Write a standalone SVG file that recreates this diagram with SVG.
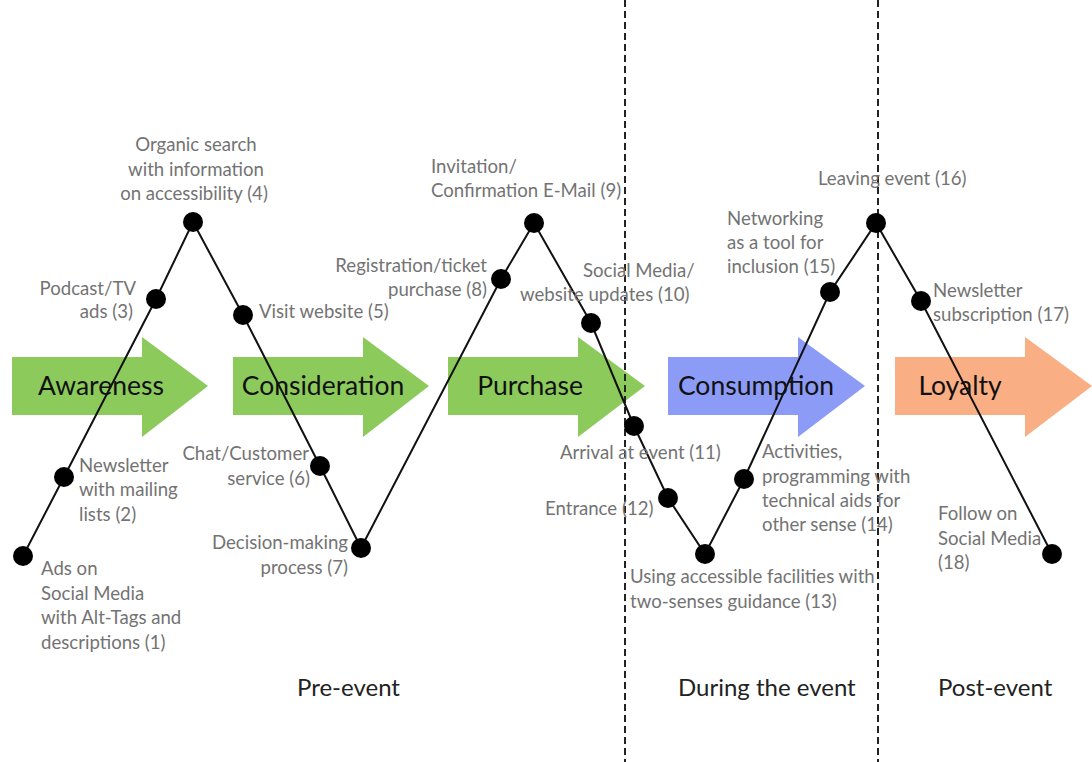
<svg xmlns="http://www.w3.org/2000/svg" width="1092" height="762" viewBox="0 0 1092 762">
<style>
.lbl{font-family:Lato,"Open Sans","Liberation Sans",sans-serif;font-size:18.6px;fill:#737373}
.stage{font-family:Lato,"Open Sans","Liberation Sans",sans-serif;font-size:26.5px;fill:#111;text-anchor:middle}
.phase{font-family:Lato,"Open Sans","Liberation Sans",sans-serif;font-size:24px;fill:#222}
.end{text-anchor:end}
.mid{text-anchor:middle}
.dash{stroke:#222;stroke-width:2;stroke-dasharray:7,4}
.dot{fill:#000}
</style>
<rect width="1092" height="762" fill="#fff"/>
<g id="stages">
<g id="awareness"><path d="M12,357 H142 V337 L208,386 L142,437 V415 H12 Z" fill="#8cca5c"/><text class="stage" x="101" y="395">Awareness</text></g>
<g id="consideration"><path d="M233,357 H363 V337 L429,386 L363,437 V415 H233 Z" fill="#8cca5c"/><text class="stage" x="323" y="395">Consideration</text></g>
<g id="purchase"><path d="M448,357 H578 V337 L645,386 L578,437 V415 H448 Z" fill="#8cca5c"/><text class="stage" x="530" y="395">Purchase</text></g>
<g id="consumption"><path d="M668,357 H798 V337 L865,386 L798,437 V415 H668 Z" fill="#8c9cf6"/><text class="stage" x="756" y="395">Consumption</text></g>
<g id="loyalty"><path d="M895,357 H1025 V337 L1092,386 L1025,437 V415 H895 Z" fill="#f9ae84"/><text class="stage" x="960" y="395">Loyalty</text></g>
</g>
<g id="dividers">
<line class="dash" x1="625" y1="0" x2="625" y2="762"/>
<line class="dash" x1="878" y1="0" x2="878" y2="762"/>
</g>
<g id="connectors">
<polyline points="23,556 64,477 156,299 193,222 243,315 320,466 361,548 501,279 534,223 591,323 634,426 668,498 705,554 744,479 830,292 876,223 921,301 1052,554" fill="none" stroke="#111" stroke-width="2"/>
</g>
<g id="n1"><circle class="dot" cx="23" cy="556" r="10"/><text class="lbl" x="41" y="575">Ads on</text><text class="lbl" x="41" y="600">Social Media</text><text class="lbl" x="41" y="624">with Alt-Tags and</text><text class="lbl" x="41" y="649">descriptions (1)</text></g>
<g id="n2"><circle class="dot" cx="64" cy="477" r="10"/><text class="lbl" x="79" y="472">Newsletter</text><text class="lbl" x="79" y="496">with mailing</text><text class="lbl" x="79" y="521">lists (2)</text></g>
<g id="n3"><circle class="dot" cx="156" cy="299" r="10"/><text class="lbl end" x="136" y="295">Podcast/TV</text><text class="lbl end" x="133" y="318">ads (3)</text></g>
<g id="n4"><circle class="dot" cx="193" cy="222" r="10"/><text class="lbl mid" x="196" y="151">Organic search</text><text class="lbl mid" x="196" y="176">with information</text><text class="lbl mid" x="194" y="200">on accessibility (4)</text></g>
<g id="n5"><circle class="dot" cx="243" cy="315" r="10"/><text class="lbl" x="259" y="318">Visit website (5)</text></g>
<g id="n6"><circle class="dot" cx="320" cy="466" r="10"/><text class="lbl end" x="309" y="460">Chat/Customer</text><text class="lbl end" x="310" y="485">service (6)</text></g>
<g id="n7"><circle class="dot" cx="361" cy="548" r="10"/><text class="lbl end" x="348" y="549">Decision-making</text><text class="lbl end" x="348" y="574">process (7)</text></g>
<g id="n8"><circle class="dot" cx="501" cy="279" r="10"/><text class="lbl end" x="487" y="272">Registration/ticket</text><text class="lbl end" x="487" y="296">purchase (8)</text></g>
<g id="n9"><circle class="dot" cx="534" cy="223" r="10"/><text class="lbl" x="431" y="173">Invitation/</text><text class="lbl" x="431" y="197">Confirmation E-Mail (9)</text></g>
<g id="n10"><circle class="dot" cx="591" cy="323" r="10"/><text class="lbl" x="583" y="277">Social Media/</text><text class="lbl" x="520" y="301">website updates (10)</text></g>
<g id="n11"><circle class="dot" cx="634" cy="426" r="10"/><text class="lbl" x="560" y="459">Arrival at event (11)</text></g>
<g id="n12"><circle class="dot" cx="668" cy="498" r="10"/><text class="lbl" x="545" y="515">Entrance (12)</text></g>
<g id="n13"><circle class="dot" cx="705" cy="554" r="10"/><text class="lbl" x="630" y="583">Using accessible facilities with</text><text class="lbl" x="630" y="608">two-senses guidance (13)</text></g>
<g id="n14"><circle class="dot" cx="744" cy="479" r="10"/><text class="lbl" x="762" y="458">Activities,</text><text class="lbl" x="762" y="483">programming with</text><text class="lbl" x="762" y="507">technical aids for</text><text class="lbl" x="762" y="531">other sense (14)</text></g>
<g id="n15"><circle class="dot" cx="830" cy="292" r="10"/><text class="lbl" x="727" y="225">Networking</text><text class="lbl" x="727" y="249">as a tool for</text><text class="lbl" x="727" y="273">inclusion (15)</text></g>
<g id="n16"><circle class="dot" cx="876" cy="223" r="10"/><text class="lbl" x="818" y="185">Leaving event (16)</text></g>
<g id="n17"><circle class="dot" cx="921" cy="301" r="10"/><text class="lbl" x="933" y="297">Newsletter</text><text class="lbl" x="933" y="321">subscription (17)</text></g>
<g id="n18"><circle class="dot" cx="1052" cy="554" r="10"/><text class="lbl" x="938" y="520">Follow on</text><text class="lbl" x="938" y="545">Social Media</text><text class="lbl" x="938" y="569">(18)</text></g>
<g id="phases">
<text class="phase" x="297" y="696">Pre-event</text>
<text class="phase" x="678" y="696">During the event</text>
<text class="phase" x="938" y="696">Post-event</text>
</g>
</svg>
